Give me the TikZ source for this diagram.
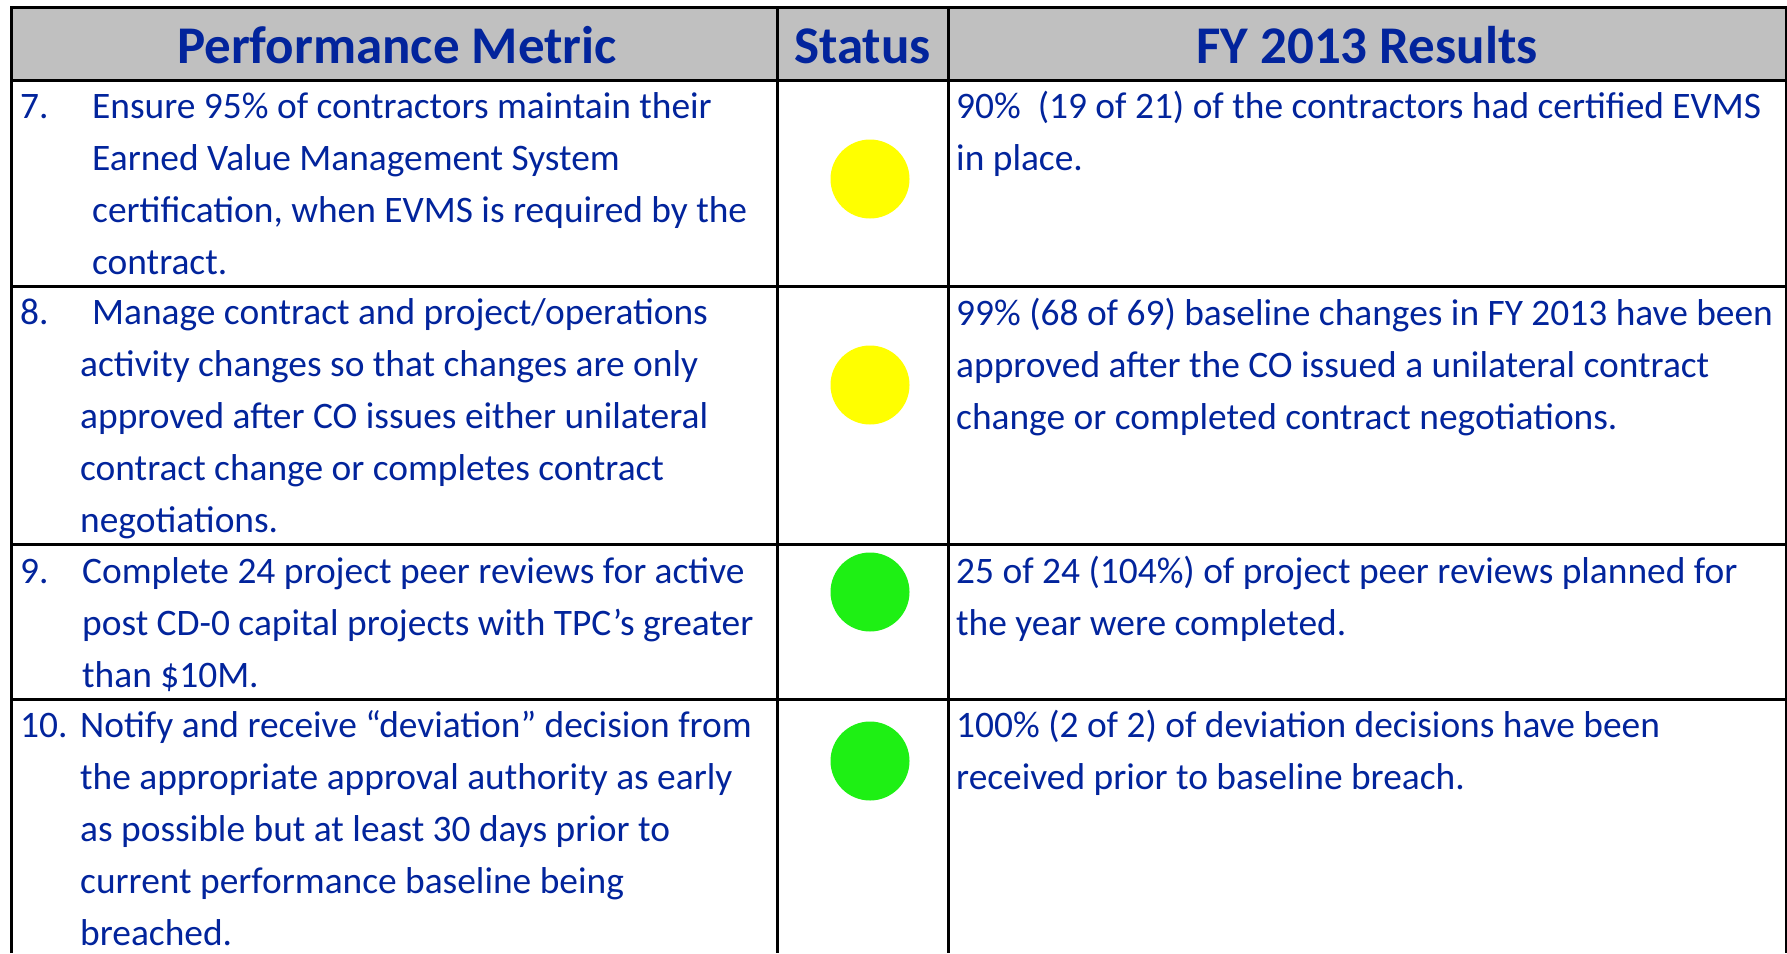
\documentclass[tikz,border=0pt]{standalone}
\usepackage{fontspec}
\setmainfont{Carlito}
\definecolor{txtblue}{RGB}{2,36,156}
\definecolor{hdrgray}{RGB}{192,192,192}
\definecolor{stYellow}{RGB}{255,255,0}
\definecolor{stGreen}{RGB}{30,240,20}
\begin{document}
\begin{tikzpicture}[x=1pt,y=-1pt,
  cell/.style={anchor=base west, inner sep=0pt, text=txtblue, font=\fontsize{37.4}{44}\selectfont},
  hdr/.style={anchor=base, inner sep=0pt, text=txtblue, font=\fontsize{53}{62}\selectfont\bfseries},
  grid/.style={line width=3pt, black},
  lamp/.style={circle, minimum size=79pt, inner sep=0pt, draw=none}]
\useasboundingbox (0,0) rectangle (1787,953);
\fill[hdrgray] (11,7) rectangle (1786,80);
% grid
\draw[grid] (11,953) -- (11,7) -- (1786,7) -- (1786,953);
\foreach \yy in {80,286,544,699} \draw[grid] (11,\yy) -- (1786,\yy);
\foreach \xx in {777,948} \draw[grid] (\xx,7) -- (\xx,953);
% header
\node[hdr] (h1) at (397,63) {Performance Metric};
\node[hdr] (h2) at (862.5,63) {Status};
\node[hdr] (h3) at (1367,63) {FY 2013 Results};
% row numbers
\node[cell] (n7) at (20,118) {7.};
\node[cell] (n8) at (20,324) {8.};
\node[cell] (n9) at (20,583) {9.};
\node[cell] (n10) at (20,737) {10.};
% metric texts
\foreach \t [count=\i from 0] in {Ensure 95\% of contractors maintain their, Earned Value Management System, {certification, when EVMS is required by the}, contract.}
  \node[cell] (m7-\i) at (92,118+52*\i) {\t};
\node[cell] (m8-0) at (92,324) {Manage contract and project/operations};
\foreach \t [count=\i from 1] in {activity changes so that changes are only, approved after CO issues either unilateral, contract change or completes contract, negotiations.}
  \node[cell] (m8-\i) at (80,324+52*\i) {\t};
\foreach \t [count=\i from 0] in {Complete 24 project peer reviews for active, post CD-0 capital projects with TPC’s greater, than \$10M.}
  \node[cell] (m9-\i) at (82,583+52*\i) {\t};
\foreach \t [count=\i from 0] in {Notify and receive “deviation” decision from, the appropriate approval authority as early, as possible but at least 30 days prior to, current performance baseline being, breached.}
  \node[cell] (m10-\i) at (80,737+52*\i) {\t};
% status lamps
\node[lamp, fill=stYellow] (s7) at (870,179) {};
\node[lamp, fill=stYellow] (s8) at (870,385) {};
\node[lamp, fill=stGreen] (s9) at (870,592) {};
\node[lamp, fill=stGreen] (s10) at (870,761) {};
% results
\foreach \t [count=\i from 0] in {90\%~~(19 of 21) of the contractors had certified EVMS, in place.}
  \node[cell] (r7-\i) at (956,118+52*\i) {\t};
\foreach \t [count=\i from 0] in {99\% (68 of 69) baseline changes in FY 2013 have been, approved after the CO issued a unilateral contract, change or completed contract negotiations.}
  \node[cell] (r8-\i) at (956,325+52*\i) {\t};
\foreach \t [count=\i from 0] in {25 of 24 (104\%) of project peer reviews planned for, the year were completed.}
  \node[cell] (r9-\i) at (956,583+52*\i) {\t};
\foreach \t [count=\i from 0] in {100\% (2 of 2) of deviation decisions have been, received prior to baseline breach.}
  \node[cell] (r10-\i) at (956,737+52*\i) {\t};
\end{tikzpicture}
\end{document}
